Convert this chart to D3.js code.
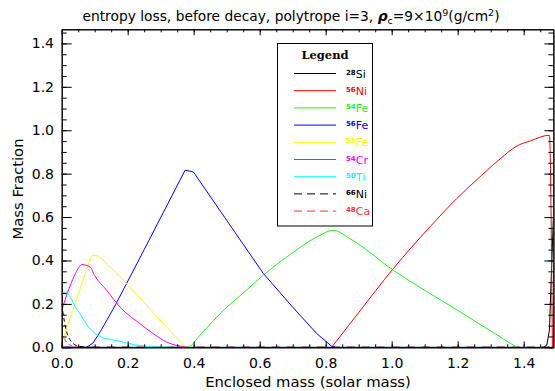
<!DOCTYPE html>
<html>
<head>
<meta charset="utf-8">
<script src="https://cdn.jsdelivr.net/npm/d3@7"></script>
<style>
  body { margin: 0; background: #fff; }
  svg { display: block; font-family: "DejaVu Sans", sans-serif; }
</style>
</head>
<body>
<svg width="555" height="391"></svg>
<script>
// mass coordinate (solar masses) and mass fraction
const si28  = { m: [1.46, 1.47, 1.478, 1.483, 1.49], f: [0, 0.01, 0.08, 0.3, 0.6] }
const ni56  = { m: [0.818, 0.9, 1.005, 1.116, 1.197, 1.273, 1.33, 1.379, 1.42, 1.478, 1.487],
                f: [0, 0.16, 0.363, 0.555, 0.685, 0.793, 0.87, 0.927, 0.951, 0.977, 0] }
const fe54  = { m: [0.3, 0.379, 0.43, 0.49, 0.55, 0.611, 0.69, 0.773, 0.823, 0.874, 1.005, 1.2, 1.379],
                f: [0, 0, 0.075, 0.17, 0.25, 0.332, 0.425, 0.508, 0.539, 0.5, 0.355, 0.17, 0] }
const fe56  = { m: [0, 0.076, 0.095, 0.12, 0.161, 0.25, 0.374, 0.399, 0.5, 0.611, 0.7, 0.773, 0.818, 0.83],
                f: [0, 0, 0.02, 0.08, 0.19, 0.45, 0.816, 0.808, 0.585, 0.34, 0.185, 0.063, 0.005, 0] }
const fe58  = { m: [0, 0.02, 0.04, 0.06, 0.075, 0.085, 0.093, 0.11, 0.136, 0.197, 0.25, 0.308, 0.35, 0.379, 0.4],
                f: [0.02, 0.11, 0.2, 0.29, 0.355, 0.4, 0.424, 0.42, 0.385, 0.293, 0.205, 0.109, 0.042, 0, 0] }
const cr54  = { m: [0, 0.015, 0.03, 0.045, 0.061, 0.086, 0.1, 0.136, 0.18, 0.237, 0.28, 0.318, 0.35, 0.379],
                f: [0.17, 0.24, 0.3, 0.35, 0.381, 0.37, 0.33, 0.263, 0.18, 0.109, 0.06, 0.024, 0.008, 0] }
const ti50  = { m: [0, 0.013, 0.03, 0.04, 0.055, 0.081, 0.1, 0.121, 0.161, 0.187, 0.22, 0.26, 0.3, 0.35],
                f: [0.247, 0.255, 0.22, 0.19, 0.155, 0.094, 0.065, 0.047, 0.032, 0.024, 0.012, 0.005, 0.001, 0] }
const ni66  = { m: [0, 0.008, 0.015, 0.025, 0.04, 0.06, 0.1], f: [0.2, 0.12, 0.07, 0.035, 0.012, 0.003, 0] }
const ca48  = { m: [0, 0.005, 0.012, 0.02, 0.035, 0.06], f: [0.03, 0.05, 0.03, 0.015, 0.005, 0] }
// the rest of the network sits on zero all along
const others = { m: [0, 1.49], f: [0, 0] }

const labels  = [['28','Si'], ['56','Ni'], ['54','Fe'], ['56','Fe'], ['58','Fe'], ['54','Cr'], ['50','Ti'], ['66','Ni'], ['48','Ca']]
const series  = [si28, ni56, fe54, fe56, fe58, cr54, ti50, ni66, ca48]
const colors  = ['#000000', '#ff0000', '#22ee22', '#0000ff', '#ffff00', '#ff00ff', '#00ffff', '#000000', '#ff3333']
const dashed  = [false, false, false, false, false, false, false, true, true]
// which curve shape to use for each series
const curves  = ['lin', 'mono', 'mono', 'lin', 'mono', 'mono', 'mono', 'mono', 'mono']

const xTicks = [0, 0.2, 0.4, 0.6, 0.8, 1.0, 1.2, 1.4]
const yTicks = [0, 0.2, 0.4, 0.6, 0.8, 1.0, 1.2, 1.4]
const xMinor = d3.range(0, 1.49, 0.05)
const yMinor = d3.range(0, 1.46, 0.05)

const svg = d3.select('svg')
const L = 61.7, R = 553.4, T = 29.3, B = 347.3
const x = d3.scaleLinear([0, 1.49], [L, R])
const y = d3.scaleLinear([0, 1.465], [B, T])

svg.append('clipPath').attr('id', 'plot')
    .append('rect').attr('x', L).attr('y', T - 1).attr('width', R - L).attr('height', B - T + 2)

const lines = {
    lin: d3.line().x(d => x(d[0])).y(d => y(d[1])),
    mono: d3.line().x(d => x(d[0])).y(d => y(d[1])).curve(d3.curveMonotoneX)
}

const pts = s => s.m.map((m, i) => [m, s.f[i]])

const g = svg.append('g').attr('clip-path', 'url(#plot)')
g.append('path').attr('d', lines.lin(pts(others)))
    .attr('fill', 'none').attr('stroke', '#5aa6dc').attr('stroke-width', 1.5)
g.append('path').attr('d', lines.lin(pts(others)))
    .attr('fill', 'none').attr('stroke', '#a82222').attr('stroke-width', 1.5).attr('stroke-dasharray', '8,7')

series.forEach((s, i) => {
    g.append('path')
        .attr('d', lines[curves[i]](pts(s)))
        .attr('fill', 'none')
        .attr('stroke', colors[i])
        .attr('stroke-width', 1)
        .attr('stroke-dasharray', dashed[i] ? '4,3' : null)
})

// axes, ticks inside on all four sides
const fmt = d3.format('.1f')
const axisStyle = sel => {
    sel.selectAll('path').attr('stroke', '#000')
    sel.selectAll('line').attr('stroke', '#000')
    sel.selectAll('text').attr('fill', '#000').style('font-size', '14px').style('font-family', '"DejaVu Sans", sans-serif')
}
svg.append('g').attr('transform', `translate(0,${B})`)
    .call(d3.axisBottom(x).tickValues(xMinor).tickSize(-3).tickSizeOuter(0).tickFormat(''))
    .call(axisStyle)
svg.append('g').attr('transform', `translate(0,${B})`)
    .call(d3.axisBottom(x).tickValues(xTicks).tickSize(-6).tickSizeOuter(0).tickPadding(11).tickFormat(fmt))
    .call(axisStyle)
svg.append('g').attr('transform', `translate(0,${T})`)
    .call(d3.axisTop(x).tickValues(xMinor).tickSize(-3).tickSizeOuter(0).tickFormat(''))
    .call(axisStyle)
svg.append('g').attr('transform', `translate(0,${T})`)
    .call(d3.axisTop(x).tickValues(xTicks).tickSize(-6).tickSizeOuter(0).tickFormat(''))
    .call(axisStyle)
svg.append('g').attr('transform', `translate(${L},0)`)
    .call(d3.axisLeft(y).tickValues(yMinor).tickSize(-5).tickSizeOuter(0).tickFormat(''))
    .call(axisStyle)
svg.append('g').attr('transform', `translate(${L},0)`)
    .call(d3.axisLeft(y).tickValues(yTicks).tickSize(-10).tickSizeOuter(0).tickPadding(7.7).tickFormat(fmt))
    .call(axisStyle)
svg.append('g').attr('transform', `translate(${R},0)`)
    .call(d3.axisRight(y).tickValues(yMinor).tickSize(-5).tickSizeOuter(0).tickFormat(''))
    .call(axisStyle)
svg.append('g').attr('transform', `translate(${R},0)`)
    .call(d3.axisRight(y).tickValues(yTicks).tickSize(-9).tickSizeOuter(0).tickFormat(''))
    .call(axisStyle)

// title
const title = svg.append('text')
    .attr('x', 291).attr('y', 21)
    .attr('text-anchor', 'middle')
    .style('font-size', '13.8px')
title.append('tspan').text('entropy loss, before decay, polytrope i=3, ')
title.append('tspan').text('ρ').style('font-weight', 'bold').style('font-style', 'italic')
title.append('tspan').text('c').attr('dy', 3).style('font-size', '9.5px')
title.append('tspan').text('=9×10').attr('dy', -3)
title.append('tspan').text('9').attr('dy', -5).style('font-size', '9.5px')
title.append('tspan').text('(g/cm').attr('dy', 5)
title.append('tspan').text('2').attr('dy', -5).style('font-size', '9.5px')
title.append('tspan').text(')').attr('dy', 5)

svg.append('text')
    .attr('transform', `translate(23,189) rotate(-90)`)
    .attr('text-anchor', 'middle')
    .style('font-size', '14.8px')
    .text('Mass Fraction')

svg.append('text')
    .attr('x', 308).attr('y', 387)
    .attr('text-anchor', 'middle')
    .style('font-size', '14.8px')
    .text('Enclosed mass (solar mass)')

// legend
const lg = svg.append('g')
lg.append('rect')
    .attr('x', 277.5).attr('y', 43.5).attr('width', 95).attr('height', 182.5)
    .attr('fill', '#fff').attr('stroke', '#000').attr('stroke-width', 1)
lg.append('text')
    .attr('x', 325).attr('y', 59)
    .attr('text-anchor', 'middle')
    .style('font-family', '"DejaVu Serif", serif')
    .style('font-weight', 'bold')
    .style('font-size', '11.5px')
    .text('Legend')

labels.forEach((lab, i) => {
    const ly = 73.5 + i * 17.2
    lg.append('line')
        .attr('x1', 294).attr('x2', 336).attr('y1', ly).attr('y2', ly)
        .attr('stroke', colors[i]).attr('stroke-width', 1)
        .attr('stroke-dasharray', dashed[i] ? '8,5' : null)
    const t = lg.append('text')
        .attr('x', 346).attr('y', ly + 4)
        .attr('fill', colors[i])
        .style('font-size', '11px')
    t.append('tspan').text(lab[0]).attr('dy', -3).style('font-size', '7px').style('font-weight', 'bold')
    t.append('tspan').text(lab[1]).attr('dy', 3)
})
</script>
</body>
</html>
